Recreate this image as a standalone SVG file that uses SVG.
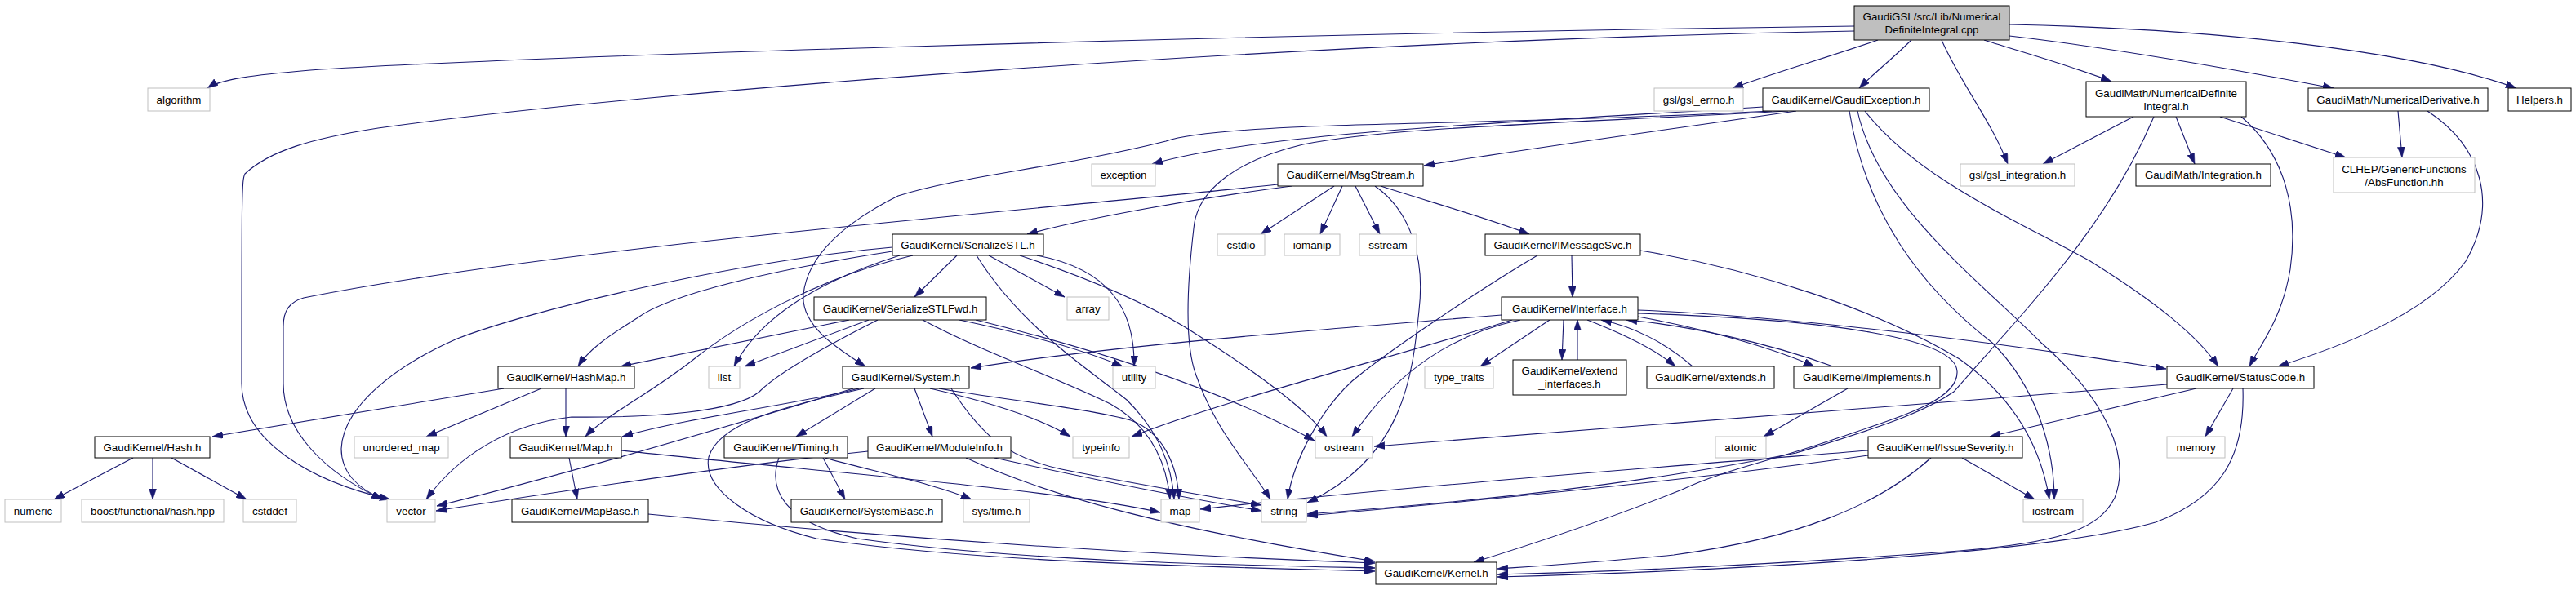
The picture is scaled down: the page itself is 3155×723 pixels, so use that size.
<svg xmlns="http://www.w3.org/2000/svg" width="3155" height="723" viewBox="0 0 3155 723">
<style>
rect.n{fill:#ffffff;stroke:#000000;stroke-width:1}
rect.x{fill:#ffffff;stroke:#bfbfbf;stroke-width:1}
rect.m{fill:#bfbfbf;stroke:#000000;stroke-width:1}
text{font-family:"Liberation Sans",Arial,Helvetica,sans-serif;font-size:13.33px;fill:#000000;text-anchor:middle}
#edges path{fill:none;stroke:#191970;stroke-width:1.1;marker-end:url(#ah)}
</style>
<defs>
<marker id="ah" markerUnits="userSpaceOnUse" markerWidth="13" markerHeight="9" refX="13" refY="4.5" orient="auto">
<path d="M0,0 L13,4.5 L0,9 z" fill="#191970" stroke="#191970" stroke-width="0.5"/>
</marker>
</defs>
<rect x="0" y="0" width="3155" height="723" fill="#ffffff"/>
<g id="edges">
<path d="M2271,32 C1500,42 620,70 380,86 C310,92 270,97 254,108"/>
<path d="M2271,38 C1600,50 800,110 463,157 C380,170 330,185 300,213 C296,220 296,240 296,470 C296,540 380,590 478,612"/>
<path d="M2300,49 C2240,70 2170,90 2122,108"/>
<path d="M2341,49 C2320,70 2295,90 2277,108"/>
<path d="M2378,49 C2400,100 2440,150 2459,201"/>
<path d="M2430,49 C2480,65 2550,85 2586,100"/>
<path d="M2461,44 C2600,60 2760,90 2858,108"/>
<path d="M2461,30 C2700,35 2950,60 3082,108"/>
<path d="M2159,131 C1900,148 1550,160 1411,201"/>
<path d="M2200,136 C2000,165 1850,185 1744,203"/>
<path d="M2170,136 C1900,150 1700,150 1582,156 C1500,160 1450,165 1428,173 C1300,205 1180,215 1100,240 C1040,270 990,310 984,360 C980,400 1030,430 1060,449"/>
<path d="M2190,136 C1900,152 1700,156 1596,177 C1520,195 1466,230 1462,280 C1455,340 1450,420 1465,460 C1490,530 1530,570 1556,612"/>
<path d="M2265,136 C2285,260 2350,350 2440,420 C2500,480 2516,560 2516,612"/>
<path d="M2275,136 C2300,250 2420,340 2500,420 C2580,490 2610,560 2590,610 C2570,650 2520,665 2400,675 C2200,690 2000,700 1834,704"/>
<path d="M2284,136 C2350,220 2470,270 2560,320 C2640,370 2690,410 2717,449"/>
<path d="M2613,143 L2502,201"/>
<path d="M2665,143 L2688,201"/>
<path d="M2719,143 L2873,193"/>
<path d="M2745,143 C2800,190 2815,260 2805,330 C2795,390 2770,420 2755,449"/>
<path d="M2638,143 C2580,280 2480,380 2393,480 C2350,510 2280,530 2200,555 C2000,595 1800,615 1601,630"/>
<path d="M2937,136 L2942,193"/>
<path d="M2973,136 C3040,180 3060,250 3020,320 C2970,390 2850,430 2790,449"/>
<path d="M1565,226 C1300,255 700,300 372,365 C355,370 347,380 347,400 L347,470 C347,530 400,580 468,612"/>
<path d="M1582,228 C1450,245 1320,270 1258,287"/>
<path d="M1634,228 L1544,287"/>
<path d="M1644,228 L1617,287"/>
<path d="M1660,228 L1690,287"/>
<path d="M1684,228 C1730,260 1745,320 1738,380 C1730,460 1720,560 1601,616"/>
<path d="M1691,228 C1760,250 1830,270 1873,287"/>
<path d="M1925,313 L1926,364"/>
<path d="M1883,313 C1820,350 1700,430 1656,467 C1620,500 1585,560 1577,612"/>
<path d="M2009,307 C2150,330 2300,380 2400,440 C2470,490 2500,550 2510,612"/>
<path d="M1093,303 C900,320 650,380 560,415 C480,450 420,500 418,550 C418,580 440,600 470,612"/>
<path d="M1093,308 C950,330 820,360 780,390 C740,415 720,430 708,449"/>
<path d="M1118,313 C1000,340 900,400 850,440 C800,480 740,510 717,535"/>
<path d="M1102,313 C1000,345 930,390 899,449"/>
<path d="M1172,313 L1120,364"/>
<path d="M1196,313 C1250,400 1330,450 1380,490 C1420,530 1435,570 1438,612"/>
<path d="M1211,313 L1304,364"/>
<path d="M1270,313 C1360,330 1390,380 1389,449"/>
<path d="M1249,313 C1330,340 1400,370 1450,400 C1530,450 1600,500 1625,535"/>
<path d="M1040,392 L760,449"/>
<path d="M1064,392 L912,449"/>
<path d="M1075,392 C1000,430 950,460 930,480 C900,505 800,512 700,511 C620,520 560,560 522,612"/>
<path d="M1130,392 C1200,430 1300,465 1360,495 C1405,520 1428,560 1433,612"/>
<path d="M1175,392 C1260,410 1330,430 1375,449"/>
<path d="M1195,392 C1350,430 1500,480 1610,540"/>
<path d="M1839,386 C1600,405 1350,425 1189,451"/>
<path d="M1852,392 C1700,440 1500,490 1386,535"/>
<path d="M1862,392 C1800,405 1720,440 1656,535"/>
<path d="M1898,392 L1813,449"/>
<path d="M1915,392 L1913,441"/>
<path d="M1932,441 L1932,392"/>
<path d="M1944,392 C1990,410 2030,430 2052,449"/>
<path d="M2073,449 C2040,420 2000,400 1961,392"/>
<path d="M2006,388 C2100,405 2180,430 2222,449"/>
<path d="M2245,449 C2160,418 2060,398 1992,392"/>
<path d="M2006,380 C2200,388 2450,420 2653,452"/>
<path d="M2006,384 C2250,392 2395,415 2397,455 C2399,490 2330,510 2250,537 C2170,565 2110,576 2060,600 C1960,640 1860,672 1805,689"/>
<path d="M617,476 L260,535"/>
<path d="M663,476 L522,535"/>
<path d="M693,476 L693,535"/>
<path d="M163,561 L66,612"/>
<path d="M187,561 L187,612"/>
<path d="M210,561 L302,612"/>
<path d="M697,561 L707,612"/>
<path d="M761,552 C1000,578 1300,600 1421,628"/>
<path d="M794,630 C1100,660 1400,680 1684,690"/>
<path d="M1052,476 C980,495 850,510 762,535"/>
<path d="M1045,476 C900,520 700,580 535,620"/>
<path d="M1058,476 C950,500 880,520 868,560 C860,600 920,640 1000,660 C1200,690 1500,695 1684,700"/>
<path d="M1072,476 L975,535"/>
<path d="M1120,476 L1142,535"/>
<path d="M1139,476 C1200,490 1270,510 1311,535"/>
<path d="M1150,476 C1230,490 1330,500 1385,515 C1425,530 1442,570 1444,612"/>
<path d="M1165,476 C1200,530 1230,560 1300,575 C1400,595 1480,608 1545,619"/>
<path d="M1008,561 L1035,612"/>
<path d="M1010,561 C1080,580 1150,595 1190,612"/>
<path d="M954,561 C940,600 960,640 1050,660 C1250,688 1500,692 1684,696"/>
<path d="M1063,553 C900,570 700,600 534,626"/>
<path d="M1218,561 C1350,590 1450,610 1545,626"/>
<path d="M1183,561 C1280,606 1420,646 1684,688"/>
<path d="M2263,476 L2160,535"/>
<path d="M2654,471 C2300,500 1900,530 1683,547"/>
<path d="M2690,476 L2437,535"/>
<path d="M2735,476 L2701,535"/>
<path d="M2747,476 C2750,560 2720,610 2640,640 C2500,680 2100,700 1834,707"/>
<path d="M2288,552 C2000,575 1700,598 1470,624"/>
<path d="M2288,558 C2100,585 1800,615 1601,632"/>
<path d="M2403,561 L2492,612"/>
<path d="M2365,561 C2300,620 2200,660 2050,680 C1950,690 1880,694 1834,697"/>
</g>
<g id="n_main"><rect class="m" x="2271" y="7" width="190" height="42"/><text x="2366" y="25">GaudiGSL/src/Lib/Numerical</text><text x="2366" y="41">DefiniteIntegral.cpp</text></g>
<g id="n_algorithm"><rect class="x" x="181" y="108" width="76" height="28"/><text x="219" y="126.5">algorithm</text></g>
<g id="n_gsl_errno"><rect class="x" x="2026" y="108" width="109" height="28"/><text x="2080.5" y="126.5">gsl/gsl_errno.h</text></g>
<g id="n_GaudiException"><rect class="n" x="2159" y="108" width="204" height="28"/><text x="2261" y="126.5">GaudiKernel/GaudiException.h</text></g>
<g id="n_NumDefInt"><rect class="n" x="2555" y="100" width="196" height="43"/><text x="2653" y="118.5">GaudiMath/NumericalDefinite</text><text x="2653" y="134.5">Integral.h</text></g>
<g id="n_NumDeriv"><rect class="n" x="2827" y="108" width="220" height="28"/><text x="2937" y="126.5">GaudiMath/NumericalDerivative.h</text></g>
<g id="n_Helpers"><rect class="n" x="3072" y="108" width="77" height="28"/><text x="3110.5" y="126.5">Helpers.h</text></g>
<g id="n_exception"><rect class="x" x="1337" y="201" width="78" height="27"/><text x="1376" y="219">exception</text></g>
<g id="n_MsgStream"><rect class="n" x="1565" y="201" width="178" height="27"/><text x="1654" y="219">GaudiKernel/MsgStream.h</text></g>
<g id="n_gsl_integration"><rect class="x" x="2401" y="201" width="140" height="27"/><text x="2471" y="219">gsl/gsl_integration.h</text></g>
<g id="n_Integration"><rect class="n" x="2616" y="201" width="165" height="27"/><text x="2698.5" y="219">GaudiMath/Integration.h</text></g>
<g id="n_AbsFunction"><rect class="x" x="2858" y="193" width="173" height="43"/><text x="2944.5" y="211.5">CLHEP/GenericFunctions</text><text x="2944.5" y="227.5">/AbsFunction.hh</text></g>
<g id="n_SerializeSTL"><rect class="n" x="1093" y="287" width="185" height="26"/><text x="1185.5" y="304.5">GaudiKernel/SerializeSTL.h</text></g>
<g id="n_cstdio"><rect class="x" x="1491" y="287" width="58" height="26"/><text x="1520" y="304.5">cstdio</text></g>
<g id="n_iomanip"><rect class="x" x="1573" y="287" width="68" height="26"/><text x="1607" y="304.5">iomanip</text></g>
<g id="n_sstream"><rect class="x" x="1665" y="287" width="70" height="26"/><text x="1700" y="304.5">sstream</text></g>
<g id="n_IMessageSvc"><rect class="n" x="1819" y="287" width="190" height="26"/><text x="1914" y="304.5">GaudiKernel/IMessageSvc.h</text></g>
<g id="n_SerializeSTLFwd"><rect class="n" x="997" y="364" width="211" height="28"/><text x="1102.5" y="382.5">GaudiKernel/SerializeSTLFwd.h</text></g>
<g id="n_array"><rect class="x" x="1307" y="364" width="51" height="28"/><text x="1332.5" y="382.5">array</text></g>
<g id="n_Interface"><rect class="n" x="1839" y="364" width="167" height="28"/><text x="1922.5" y="382.5">GaudiKernel/Interface.h</text></g>
<g id="n_HashMap"><rect class="n" x="610" y="449" width="167" height="27"/><text x="693.5" y="467">GaudiKernel/HashMap.h</text></g>
<g id="n_list"><rect class="x" x="868" y="449" width="38" height="27"/><text x="887" y="467">list</text></g>
<g id="n_System"><rect class="n" x="1032" y="449" width="155" height="27"/><text x="1109.5" y="467">GaudiKernel/System.h</text></g>
<g id="n_utility"><rect class="x" x="1363" y="449" width="52" height="27"/><text x="1389" y="467">utility</text></g>
<g id="n_type_traits"><rect class="x" x="1745" y="449" width="84" height="27"/><text x="1787" y="467">type_traits</text></g>
<g id="n_extend_interfaces"><rect class="n" x="1853" y="441" width="139" height="43"/><text x="1922.5" y="459">GaudiKernel/extend</text><text x="1922.5" y="475">_interfaces.h</text></g>
<g id="n_extends"><rect class="n" x="2017" y="449" width="156" height="27"/><text x="2095" y="467">GaudiKernel/extends.h</text></g>
<g id="n_implements"><rect class="n" x="2197" y="449" width="179" height="27"/><text x="2286.5" y="467">GaudiKernel/implements.h</text></g>
<g id="n_StatusCode"><rect class="n" x="2654" y="449" width="180" height="27"/><text x="2744" y="467">GaudiKernel/StatusCode.h</text></g>
<g id="n_Hash"><rect class="n" x="116" y="535" width="141" height="26"/><text x="186.5" y="552.5">GaudiKernel/Hash.h</text></g>
<g id="n_unordered_map"><rect class="x" x="434" y="535" width="115" height="26"/><text x="491.5" y="552.5">unordered_map</text></g>
<g id="n_Map"><rect class="n" x="625" y="535" width="136" height="26"/><text x="693" y="552.5">GaudiKernel/Map.h</text></g>
<g id="n_Timing"><rect class="n" x="887" y="535" width="151" height="26"/><text x="962.5" y="552.5">GaudiKernel/Timing.h</text></g>
<g id="n_ModuleInfo"><rect class="n" x="1063" y="535" width="175" height="26"/><text x="1150.5" y="552.5">GaudiKernel/ModuleInfo.h</text></g>
<g id="n_typeinfo"><rect class="x" x="1314" y="535" width="69" height="26"/><text x="1348.5" y="552.5">typeinfo</text></g>
<g id="n_ostream"><rect class="x" x="1611" y="535" width="70" height="26"/><text x="1646" y="552.5">ostream</text></g>
<g id="n_atomic"><rect class="x" x="2101" y="535" width="62" height="26"/><text x="2132" y="552.5">atomic</text></g>
<g id="n_IssueSeverity"><rect class="n" x="2288" y="535" width="189" height="26"/><text x="2382.5" y="552.5">GaudiKernel/IssueSeverity.h</text></g>
<g id="n_memory"><rect class="x" x="2654" y="535" width="71" height="26"/><text x="2689.5" y="552.5">memory</text></g>
<g id="n_numeric"><rect class="x" x="6" y="612" width="69" height="28"/><text x="40.5" y="630.5">numeric</text></g>
<g id="n_boost_hash"><rect class="x" x="100" y="612" width="174" height="28"/><text x="187" y="630.5">boost/functional/hash.hpp</text></g>
<g id="n_cstddef"><rect class="x" x="298" y="612" width="65" height="28"/><text x="330.5" y="630.5">cstddef</text></g>
<g id="n_vector"><rect class="x" x="474" y="612" width="59" height="28"/><text x="503.5" y="630.5">vector</text></g>
<g id="n_MapBase"><rect class="n" x="627" y="612" width="167" height="28"/><text x="710.5" y="630.5">GaudiKernel/MapBase.h</text></g>
<g id="n_SystemBase"><rect class="n" x="969" y="612" width="185" height="28"/><text x="1061.5" y="630.5">GaudiKernel/SystemBase.h</text></g>
<g id="n_systime"><rect class="x" x="1180" y="612" width="81" height="28"/><text x="1220.5" y="630.5">sys/time.h</text></g>
<g id="n_map"><rect class="x" x="1422" y="612" width="47" height="28"/><text x="1445.5" y="630.5">map</text></g>
<g id="n_string"><rect class="x" x="1545" y="612" width="55" height="28"/><text x="1572.5" y="630.5">string</text></g>
<g id="n_iostream"><rect class="x" x="2478" y="612" width="73" height="28"/><text x="2514.5" y="630.5">iostream</text></g>
<g id="n_Kernel"><rect class="n" x="1685" y="689" width="148" height="27"/><text x="1759" y="707">GaudiKernel/Kernel.h</text></g>
</svg>
